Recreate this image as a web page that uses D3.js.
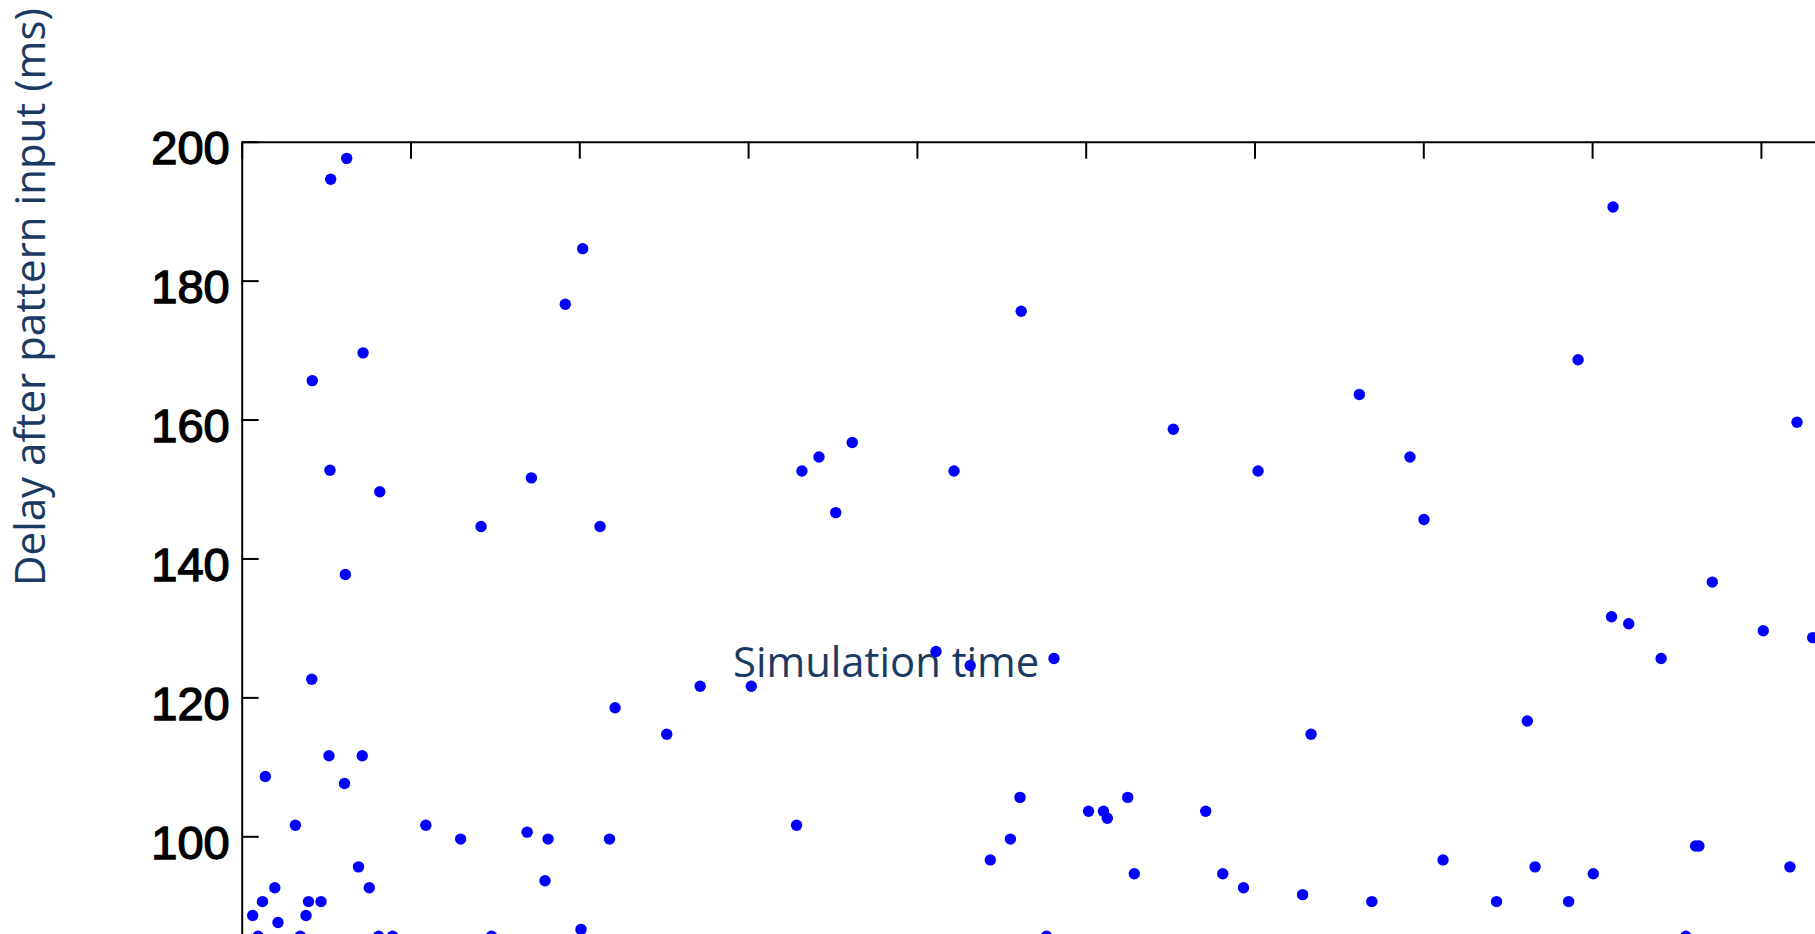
<!DOCTYPE html>
<html>
<head>
<meta charset="utf-8">
<script src="https://cdn.jsdelivr.net/npm/d3@7"></script>
<style>
  html, body { margin: 0; padding: 0; background: #ffffff; overflow: hidden; }
  svg { display: block; }
</style>
</head>
<body>
<svg id="chart" width="1815" height="934"></svg>
<script>
// ---- data ----
const simTime = [62.2, 52.7, 202.0, 191.7, 71.9, 41.8, 52.3, 81.8, 171.6, 141.8,
  212.3, 461.8, 361.7, 342.0, 331.9, 422.0, 351.9, 662.1, 551.9, 602.1,
  692.1, 700.4, 812.4, 791.7, 921.4,
  61.4, 41.5, 221.2, 51.7, 71.4, 14.0, 60.9, 31.8, 109.1, 129.7,
  169.1, 181.5, 217.9, 69.2, 75.6, 19.6, 179.7, 12.3, 39.6, 47.0,
  6.5, 38.1, 21.5, 201.0,
  9.7, 34.7, 81.1, 89.4, 148.0,
  251.8, 271.6, 301.9, 411.3, 431.6, 328.7, 461.1, 455.4, 443.5, 476.8,
  481.2, 633.5, 524.9, 501.7, 510.5, 512.8, 571.1, 528.8, 581.2, 593.5,
  628.5, 669.5,
  871.2, 811.5, 821.7, 901.4, 930.7, 840.9, 761.6, 861.3, 863.3, 711.7,
  766.2, 800.7, 917.2, 743.4, 786.1, 855.5];

const delay = [197.6, 194.6, 184.6, 176.6, 169.6, 165.6, 152.7, 149.6, 151.6, 144.6,
  144.6, 175.6, 156.7, 154.6, 152.6, 152.6, 146.6, 163.6, 158.6, 152.6,
  154.6, 145.6, 190.6, 168.6, 159.6,
  137.7, 122.6, 118.5, 111.6, 111.6, 108.6, 107.6, 101.6, 101.6, 99.6,
  100.6, 99.6, 99.6, 95.6, 92.6, 92.6, 93.6, 90.6, 90.6, 90.6,
  88.6, 88.6, 87.6, 86.6,
  85.6, 85.6, 85.6, 85.6, 85.6,
  114.7, 121.6, 121.6, 126.6, 124.6, 101.6, 105.6, 99.6, 96.6, 85.6,
  125.6, 114.7, 105.6, 103.6, 103.6, 102.6, 103.6, 94.6, 94.6, 92.6,
  91.6, 90.6,
  136.6, 131.6, 130.6, 129.6, 128.6, 125.6, 116.6, 98.6, 98.6, 96.6,
  95.6, 94.6, 95.6, 90.6, 90.6, 85.6];

const yTicks = [100, 120, 140, 160, 180, 200];
const xTicks = [0, 100, 200, 300, 400, 500, 600, 700, 800, 900, 1000];
const yLabel = "Delay after pattern input (ms)";
const xLabel = "Simulation time";

// ---- layout ----
const svg = d3.select("#chart");
const plotLeft = 241.7, plotTop = 141.7;
const pxPerMs = 6.946;
const pxPerTick = 168.8;

const x = d3.scaleLinear().domain([0, 1000]).range([plotLeft, plotLeft + pxPerTick * 10]);
const y = d3.scaleLinear().domain([80, 200]).range([plotTop + 120 * pxPerMs, plotTop]);

svg.append("rect").attr("width", 1815).attr("height", 934).attr("fill", "#ffffff");

// y-axis title
svg.append("text")
  .attr("transform", "translate(45,297) rotate(-90)")
  .attr("text-anchor", "middle")
  .attr("font-family", "'Open Sans', 'Noto Sans', sans-serif")
  .attr("font-size", 42)
  .attr("fill", "#1b3a63")
  .text(yLabel);

// annotation text inside plot
svg.append("text")
  .attr("x", 733).attr("y", 677)
  .attr("font-family", "'Open Sans', 'Noto Sans', sans-serif")
  .attr("font-size", 41.8)
  .attr("fill", "#1b3a63")
  .text(xLabel);

// top axis (ticks only, inward)
const gTop = svg.append("g")
  .attr("transform", `translate(0,${plotTop})`)
  .call(d3.axisTop(x).tickValues(xTicks).tickSizeInner(-17).tickSizeOuter(0).tickFormat(""));

// left axis
const gLeft = svg.append("g")
  .attr("transform", `translate(${plotLeft},0)`)
  .call(d3.axisLeft(y).tickValues(yTicks).tickSizeInner(-17).tickSizeOuter(0).tickPadding(12));

[gTop, gLeft].forEach(g => {
  g.select(".domain").attr("stroke", "#000").attr("stroke-width", 2);
  g.selectAll(".tick line").attr("stroke", "#000").attr("stroke-width", 2);
});
gLeft.selectAll(".tick text")
  .attr("font-family", "Arial, 'Liberation Sans', sans-serif")
  .attr("font-size", 47)
  .attr("fill", "#000")
  .attr("stroke", "#000")
  .attr("stroke-width", 1.4)
  .attr("dy", "0.47em");

// points
svg.append("g")
  .selectAll("circle")
  .data(simTime.map((t, i) => ({ t, d: delay[i] })))
  .join("circle")
  .attr("cx", p => x(p.t))
  .attr("cy", p => y(p.d))
  .attr("r", 5.7)
  .attr("fill", "#0000ff");
</script>
</body>
</html>
